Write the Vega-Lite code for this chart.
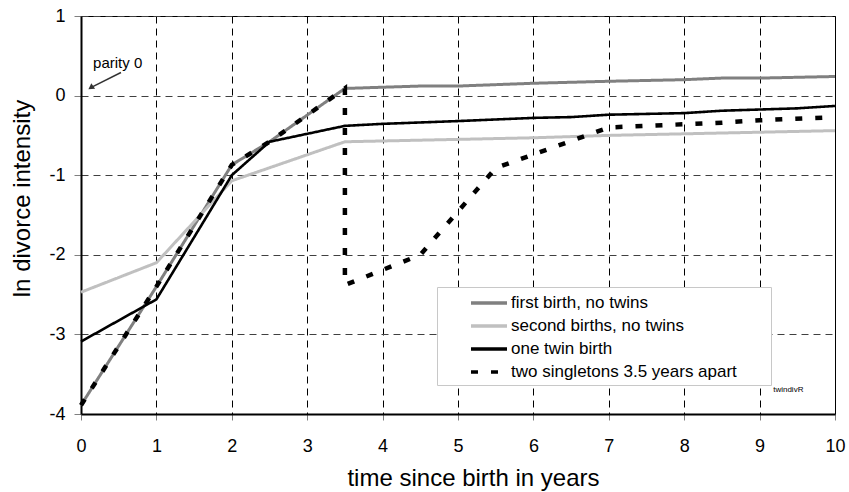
{
  "$schema": "https://vega.github.io/schema/vega-lite/v6.json",
  "width": 754,
  "height": 398,
  "autosize": {"type": "none"},
  "padding": {"left": 81, "top": 16, "right": 14, "bottom": 78},
  "background": "white",
  "config": {
    "view": {"stroke": "black", "strokeWidth": 1},
    "font": "Liberation Sans"
  },
  "datasets": {
    "lines": [
      {"series": "first birth, no twins", "i": 1, "t": 0, "v": -3.89},
      {"series": "first birth, no twins", "i": 2, "t": 1, "v": -2.4},
      {"series": "first birth, no twins", "i": 3, "t": 2, "v": -0.87},
      {"series": "first birth, no twins", "i": 4, "t": 2.5, "v": -0.58},
      {"series": "first birth, no twins", "i": 5, "t": 3.5, "v": 0.09},
      {"series": "first birth, no twins", "i": 6, "t": 4.5, "v": 0.12},
      {"series": "first birth, no twins", "i": 7, "t": 5, "v": 0.12},
      {"series": "first birth, no twins", "i": 8, "t": 6, "v": 0.155},
      {"series": "first birth, no twins", "i": 9, "t": 7, "v": 0.18},
      {"series": "first birth, no twins", "i": 10, "t": 8, "v": 0.2},
      {"series": "first birth, no twins", "i": 11, "t": 8.5, "v": 0.22},
      {"series": "first birth, no twins", "i": 12, "t": 9, "v": 0.22},
      {"series": "first birth, no twins", "i": 13, "t": 10, "v": 0.24},
      {"series": "second births, no twins", "i": 1, "t": 0, "v": -2.47},
      {"series": "second births, no twins", "i": 2, "t": 1, "v": -2.1},
      {"series": "second births, no twins", "i": 3, "t": 2, "v": -1.07},
      {"series": "second births, no twins", "i": 4, "t": 3.5, "v": -0.58},
      {"series": "second births, no twins", "i": 5, "t": 4.5, "v": -0.56},
      {"series": "second births, no twins", "i": 6, "t": 5, "v": -0.55},
      {"series": "second births, no twins", "i": 7, "t": 6, "v": -0.53},
      {"series": "second births, no twins", "i": 8, "t": 7, "v": -0.5},
      {"series": "second births, no twins", "i": 9, "t": 8, "v": -0.48},
      {"series": "second births, no twins", "i": 10, "t": 9, "v": -0.46},
      {"series": "second births, no twins", "i": 11, "t": 10, "v": -0.44},
      {"series": "one twin birth", "i": 1, "t": 0, "v": -3.09},
      {"series": "one twin birth", "i": 2, "t": 1, "v": -2.56},
      {"series": "one twin birth", "i": 3, "t": 2, "v": -1.0},
      {"series": "one twin birth", "i": 4, "t": 2.5, "v": -0.58},
      {"series": "one twin birth", "i": 5, "t": 3.5, "v": -0.38},
      {"series": "one twin birth", "i": 6, "t": 4, "v": -0.355},
      {"series": "one twin birth", "i": 7, "t": 5, "v": -0.32},
      {"series": "one twin birth", "i": 8, "t": 6, "v": -0.28},
      {"series": "one twin birth", "i": 9, "t": 6.5, "v": -0.27},
      {"series": "one twin birth", "i": 10, "t": 7, "v": -0.24},
      {"series": "one twin birth", "i": 11, "t": 8, "v": -0.22},
      {"series": "one twin birth", "i": 12, "t": 8.5, "v": -0.19},
      {"series": "one twin birth", "i": 13, "t": 9, "v": -0.175},
      {"series": "one twin birth", "i": 14, "t": 9.5, "v": -0.16},
      {"series": "one twin birth", "i": 15, "t": 10, "v": -0.13},
      {"series": "two singletons 3.5 years apart", "i": 1, "t": 0, "v": -3.89},
      {"series": "two singletons 3.5 years apart", "i": 2, "t": 1, "v": -2.4},
      {"series": "two singletons 3.5 years apart", "i": 3, "t": 2, "v": -0.87},
      {"series": "two singletons 3.5 years apart", "i": 4, "t": 2.5, "v": -0.58},
      {"series": "two singletons 3.5 years apart", "i": 5, "t": 3.5, "v": 0.09},
      {"series": "two singletons 3.5 years apart", "i": 6, "t": 3.5, "v": -2.38},
      {"series": "two singletons 3.5 years apart", "i": 7, "t": 4.5, "v": -2.0},
      {"series": "two singletons 3.5 years apart", "i": 8, "t": 5.5, "v": -0.91},
      {"series": "two singletons 3.5 years apart", "i": 9, "t": 7, "v": -0.4},
      {"series": "two singletons 3.5 years apart", "i": 10, "t": 8, "v": -0.36},
      {"series": "two singletons 3.5 years apart", "i": 11, "t": 8.5, "v": -0.34},
      {"series": "two singletons 3.5 years apart", "i": 12, "t": 9, "v": -0.31},
      {"series": "two singletons 3.5 years apart", "i": 13, "t": 10, "v": -0.27}
    ],
    "arrow": [{"t": 0.53, "v": 0.29, "t2": 0.13, "v2": 0.1}],
    "head": [{"t": 0.13, "v": 0.1}],
    "notes": [
      {"t": 0.16, "v": 0.41, "label": "parity 0", "size": "big"},
      {"t": 9.18, "v": -3.7, "label": "twindivR", "size": "small"}
    ]
  },
  "encoding": {
    "x": {
      "field": "t",
      "type": "quantitative",
      "scale": {"domain": [0, 10], "nice": false, "zero": false},
      "axis": {
        "values": [0, 1, 2, 3, 4, 5, 6, 7, 8, 9, 10],
        "grid": true,
        "gridDash": [7, 5],
        "gridColor": "#000000",
        "gridWidth": 1,
        "gridOpacity": 1,
        "domainColor": "#000000",
        "domainWidth": 2,
        "tickColor": "#808080",
        "tickSize": 6,
        "tickWidth": 1,
        "labelFontSize": 18,
        "labelColor": "#000000",
        "labelPadding": 17,
        "labelFlush": false,
        "title": "time since birth in years",
        "titleFontSize": 24,
        "titleFontWeight": "normal",
        "titleColor": "#000000",
        "titleX": 392,
        "titleY": 71,
        "titleBaseline": "alphabetic",
        "titleAlign": "center"
      }
    },
    "y": {
      "field": "v",
      "type": "quantitative",
      "scale": {"domain": [-4, 1], "nice": false, "zero": false},
      "axis": {
        "values": [-4, -3, -2, -1, 0, 1],
        "labelExpr": "datum.value < 0 ? '-' + abs(datum.value) : '' + datum.value",
        "grid": true,
        "gridDash": [7, 5],
        "gridColor": "#404040",
        "gridWidth": 1,
        "gridOpacity": 1,
        "domainColor": "#000000",
        "domainWidth": 2,
        "tickColor": "#808080",
        "tickSize": 7,
        "tickWidth": 1,
        "labelFontSize": 18,
        "labelColor": "#000000",
        "labelPadding": 9,
        "labelFlush": false,
        "title": "ln divorce intensity",
        "titleFontSize": 24,
        "titleFontWeight": "normal",
        "titleColor": "#000000",
        "titleX": -59,
        "titleY": 182,
        "titleAngle": 270,
        "titleBaseline": "middle",
        "titleAlign": "center"
      }
    }
  },
  "layer": [
    {
      "data": {"name": "lines"},
      "transform": [{"filter": "datum.series === 'first birth, no twins'"}],
      "mark": {"type": "line", "strokeCap": "butt", "strokeJoin": "miter", "strokeWidth": 3},
      "encoding": {
        "order": {"field": "i", "type": "quantitative"},
        "color": {
          "field": "series",
          "type": "nominal",
          "scale": {
            "domain": ["first birth, no twins", "second births, no twins", "one twin birth", "two singletons 3.5 years apart"],
            "range": ["#808080", "#c0c0c0", "#000000", "#000000"]
          },
          "legend": {
            "title": null,
            "orient": "none",
            "legendX": 356,
            "legendY": 271,
            "padding": 5,
            "fillColor": "white",
            "strokeColor": "#c8c8c8",
            "labelFontSize": 17,
            "labelFont": "Liberation Sans",
            "labelColor": "#000000",
            "labelLimit": 500,
            "symbolType": "M2,0H6M34,0",
            "symbolSize": 324,
            "symbolStrokeWidth": 3.5,
            "labelOffset": 47,
            "rowPadding": 4
          }
        },
        "strokeDash": {
          "field": "series",
          "type": "nominal",
          "scale": {
            "domain": ["first birth, no twins", "second births, no twins", "one twin birth", "two singletons 3.5 years apart"],
            "range": [[1, 0], [1, 0], [1, 0], [7, 13]]
          }
        }
      }
    },
    {
      "data": {"name": "lines"},
      "transform": [{"filter": "datum.series === 'second births, no twins'"}],
      "mark": {"type": "line", "strokeCap": "butt", "strokeJoin": "miter", "strokeWidth": 3},
      "encoding": {
        "order": {"field": "i", "type": "quantitative"},
        "color": {"field": "series", "type": "nominal"},
        "strokeDash": {"field": "series", "type": "nominal"}
      }
    },
    {
      "data": {"name": "lines"},
      "transform": [{"filter": "datum.series === 'one twin birth'"}],
      "mark": {"type": "line", "strokeCap": "butt", "strokeJoin": "miter", "strokeWidth": 2.6},
      "encoding": {
        "order": {"field": "i", "type": "quantitative"},
        "color": {"field": "series", "type": "nominal"},
        "strokeDash": {"field": "series", "type": "nominal"}
      }
    },
    {
      "data": {"name": "lines"},
      "transform": [{"filter": "datum.series === 'two singletons 3.5 years apart'"}],
      "mark": {"type": "line", "strokeCap": "butt", "strokeJoin": "miter", "strokeWidth": 4.5},
      "encoding": {
        "order": {"field": "i", "type": "quantitative"},
        "color": {"field": "series", "type": "nominal"},
        "strokeDash": {"field": "series", "type": "nominal"}
      }
    },
    {
      "data": {"name": "arrow"},
      "mark": {"type": "rule", "color": "#333333", "strokeWidth": 1.5},
      "encoding": {
        "x2": {"field": "t2"},
        "y2": {"field": "v2"}
      }
    },
    {
      "data": {"name": "head"},
      "mark": {"type": "point", "shape": "triangle-up", "filled": true, "color": "#333333", "size": 45, "angle": 236, "opacity": 1}
    },
    {
      "data": {"name": "notes"},
      "transform": [{"filter": "datum.size === 'big'"}],
      "mark": {"type": "text", "align": "left", "baseline": "middle", "fontSize": 15, "color": "#000000"},
      "encoding": {"text": {"field": "label"}}
    },
    {
      "data": {"name": "notes"},
      "transform": [{"filter": "datum.size === 'small'"}],
      "mark": {"type": "text", "align": "left", "baseline": "middle", "fontSize": 8, "color": "#000000"},
      "encoding": {"text": {"field": "label"}}
    }
  ]
}
